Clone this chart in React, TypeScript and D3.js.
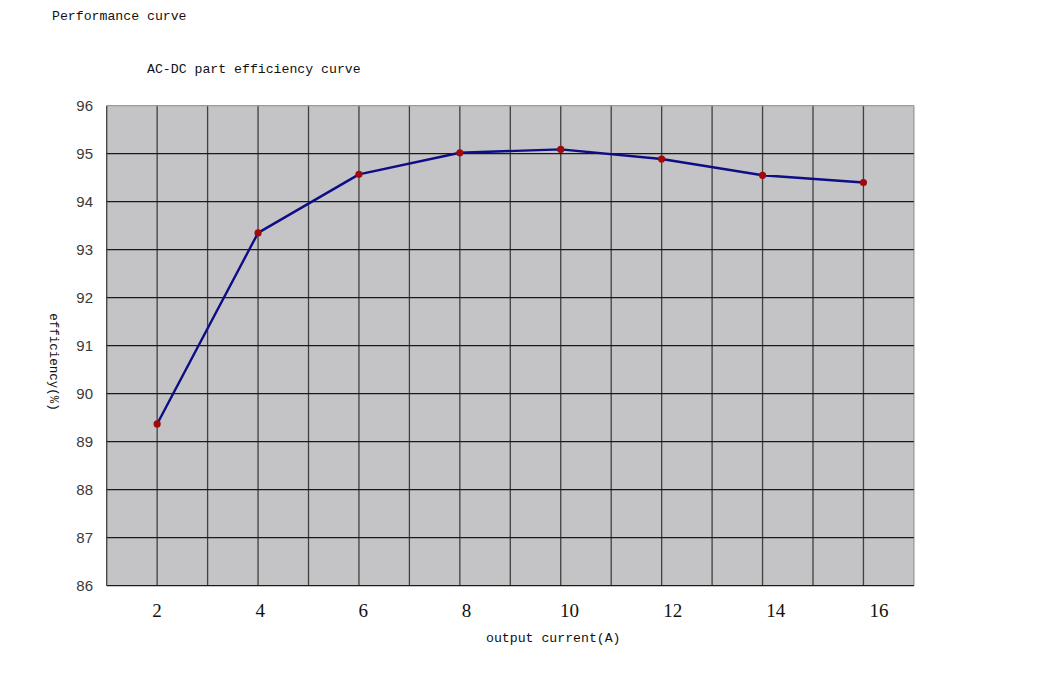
import { useEffect, useRef } from "react";
import * as d3 from "d3";

const WIDTH = 1055;
const HEIGHT = 681;

// output current (A) and efficiency (%)
const currents = [2, 4, 6, 8, 10, 12, 14, 16];
const efficiency = [89.37, 93.35, 94.57, 95.02, 95.09, 94.89, 94.55, 94.4];
const xTickLabels = ["2", "4", "6", "8", "10", "12", "14", "16"];
const yTicks = [86, 87, 88, 89, 90, 91, 92, 93, 94, 95, 96];
const xGrid = d3.range(1, 18);

const PLOT = { left: 106.7, right: 913.9, top: 105.7, bottom: 585.7 };

const App = () => {
  const svgRef = useRef<SVGSVGElement | null>(null);

  useEffect(() => {
    const svg = d3.select(svgRef.current);
    svg.selectAll("*").remove();

    const x = d3.scaleLinear().domain([1, 17]).range([PLOT.left, PLOT.right]);
    const y = d3.scaleLinear().domain([86, 96]).range([PLOT.bottom, PLOT.top]);
    // the printed labels drift a bit from the grid, so they get their own scale
    const xLabel = d3.scalePoint().domain(xTickLabels).range([157, 879]);

    svg
      .append("rect")
      .attr("width", WIDTH)
      .attr("height", HEIGHT)
      .attr("fill", "#ffffff");

    const mono = "'Liberation Mono', 'DejaVu Sans Mono', monospace";

    svg
      .append("text")
      .attr("x", 52)
      .attr("y", 20)
      .attr("font-family", mono)
      .attr("font-size", 13.2)
      .attr("fill", "#111")
      .text("Performance curve");

    svg
      .append("text")
      .attr("x", 147)
      .attr("y", 73)
      .attr("font-family", mono)
      .attr("font-size", 13.2)
      .attr("fill", "#111")
      .text("AC-DC part efficiency curve");

    svg
      .append("rect")
      .attr("x", PLOT.left)
      .attr("y", PLOT.top)
      .attr("width", PLOT.right - PLOT.left)
      .attr("height", PLOT.bottom - PLOT.top)
      .attr("fill", "#c4c3c6");

    // vertical grid
    svg
      .append("g")
      .selectAll("line")
      .data(xGrid)
      .join("line")
      .attr("x1", (d) => x(d))
      .attr("x2", (d) => x(d))
      .attr("y1", PLOT.top)
      .attr("y2", PLOT.bottom)
      .attr("stroke", (d) => (d === 17 ? "#9a9a9a" : "#404040"))
      .attr("stroke-width", 1.3);

    // horizontal grid
    svg
      .append("g")
      .selectAll("line")
      .data(yTicks)
      .join("line")
      .attr("x1", PLOT.left)
      .attr("x2", PLOT.right)
      .attr("y1", (d) => y(d))
      .attr("y2", (d) => y(d))
      .attr("stroke", (d) => (d === 96 ? "#9a9a9a" : "#1a1a1a"))
      .attr("stroke-width", 1.3);

    // y tick labels
    svg
      .append("g")
      .selectAll("text")
      .data(yTicks)
      .join("text")
      .attr("x", 93)
      .attr("y", (d) => y(d))
      .attr("dy", "0.35em")
      .attr("text-anchor", "end")
      .attr("font-family", "'Liberation Sans', Arial, sans-serif")
      .attr("font-size", 15)
      .attr("fill", "#3a3a3a")
      .text((d) => d);

    // x tick labels
    svg
      .append("g")
      .selectAll("text")
      .data(xTickLabels)
      .join("text")
      .attr("x", (d) => xLabel(d) ?? 0)
      .attr("y", 617)
      .attr("text-anchor", "middle")
      .attr("font-family", "'Liberation Serif', 'Times New Roman', serif")
      .attr("font-size", 19)
      .attr("fill", "#111")
      .text((d) => d);

    svg
      .append("text")
      .attr("x", 486)
      .attr("y", 642)
      .attr("font-family", mono)
      .attr("font-size", 13.2)
      .attr("fill", "#111")
      .text("output current(A)");

    svg
      .append("text")
      .attr("transform", "translate(50, 362) rotate(90)")
      .attr("text-anchor", "middle")
      .attr("font-family", mono)
      .attr("font-size", 12.5)
      .attr("fill", "#111")
      .text("efficiency(%)");

    const points = currents.map((c, i) => ({ c, e: efficiency[i] }));

    const line = d3
      .line<{ c: number; e: number }>()
      .x((d) => x(d.c))
      .y((d) => y(d.e));

    svg
      .append("path")
      .datum(points)
      .attr("d", line)
      .attr("fill", "none")
      .attr("stroke", "#0d0d85")
      .attr("stroke-width", 2.4)
      .attr("stroke-linejoin", "round");

    svg
      .append("g")
      .selectAll("circle")
      .data(points)
      .join("circle")
      .attr("cx", (d) => x(d.c))
      .attr("cy", (d) => y(d.e))
      .attr("r", 3.6)
      .attr("fill", "#a00a0a");
  }, []);

  return (
    <svg
      ref={svgRef}
      width={WIDTH}
      height={HEIGHT}
      style={{ display: "block", margin: "-8px" }}
    />
  );
};

export default App;
